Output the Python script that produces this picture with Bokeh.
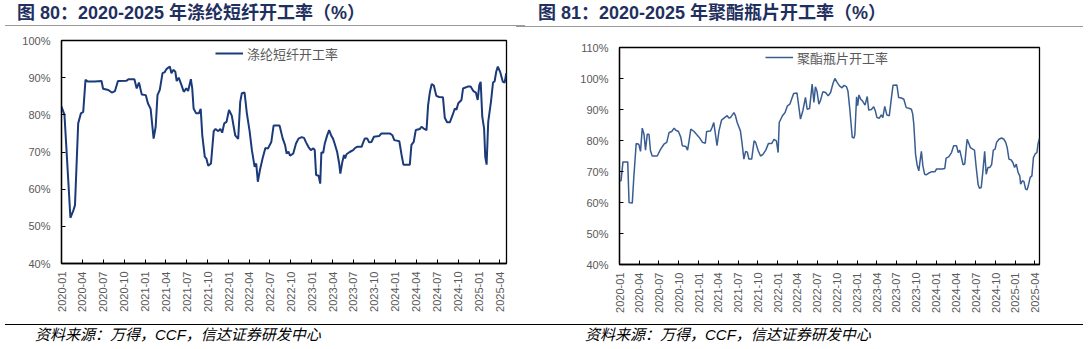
import math
import pandas as pd
from bokeh.plotting import figure
from bokeh.layouts import row, column
from bokeh.models import (Legend, LegendItem, FixedTicker, Div,
                          DatetimeTickFormatter, PrintfTickFormatter, Range1d, ColumnDataSource)
from bokeh.embed import file_html
from bokeh.resources import INLINE

# ---------------- data ----------------
quarter_ticks = ["2020-01", "2020-04", "2020-07", "2020-10", "2021-01", "2021-04", "2021-07", "2021-10",
                 "2022-01", "2022-04", "2022-07", "2022-10", "2023-01", "2023-04", "2023-07", "2023-10",
                 "2024-01", "2024-04", "2024-07", "2024-10", "2025-01", "2025-04"]

psf_dates = [
    "2020-01-01", "2020-01-14", "2020-02-09", "2020-02-22", "2020-02-29", "2020-03-14", "2020-03-26",
    "2020-04-05", "2020-04-15", "2020-04-24", "2020-05-26", "2020-06-24", "2020-07-01", "2020-07-24",
    "2020-08-08", "2020-08-22", "2020-09-04", "2020-10-12", "2020-10-20", "2020-11-15", "2020-11-25",
    "2020-12-05", "2020-12-17", "2021-01-04", "2021-01-13", "2021-01-25", "2021-02-07", "2021-02-16",
    "2021-02-24", "2021-03-06", "2021-03-18", "2021-03-28", "2021-04-04", "2021-04-19", "2021-04-26",
    "2021-05-04", "2021-05-13", "2021-05-19", "2021-05-28", "2021-06-09", "2021-06-19", "2021-06-30",
    "2021-07-08", "2021-07-20", "2021-07-26", "2021-08-01", "2021-08-12", "2021-08-24", "2021-09-01",
    "2021-09-08", "2021-09-19", "2021-09-26", "2021-10-04", "2021-10-16", "2021-10-28", "2021-11-05",
    "2021-11-17", "2021-11-26", "2021-12-04", "2021-12-13", "2021-12-23", "2022-01-03", "2022-01-15",
    "2022-01-30", "2022-02-12", "2022-02-21", "2022-02-28", "2022-03-12", "2022-03-22", "2022-04-03",
    "2022-04-13", "2022-04-25", "2022-05-02", "2022-05-09", "2022-05-18", "2022-05-30", "2022-06-11",
    "2022-06-22", "2022-07-07", "2022-07-17", "2022-08-12", "2022-08-26", "2022-09-05", "2022-09-12",
    "2022-09-20", "2022-09-27", "2022-10-11", "2022-10-23", "2022-11-03", "2022-11-17", "2022-11-27",
    "2022-12-06", "2022-12-16", "2022-12-27", "2023-01-07", "2023-01-13", "2023-01-19", "2023-01-30",
    "2023-02-06", "2023-02-11", "2023-02-19", "2023-02-26", "2023-03-08", "2023-03-17", "2023-03-27",
    "2023-04-03", "2023-04-10", "2023-04-21", "2023-04-30", "2023-05-05", "2023-05-14", "2023-05-21",
    "2023-05-26", "2023-06-01", "2023-06-15", "2023-06-30", "2023-07-07", "2023-07-17", "2023-08-06",
    "2023-08-13", "2023-08-20", "2023-08-31", "2023-09-08", "2023-09-18", "2023-09-29", "2023-10-22",
    "2023-11-01", "2023-12-07", "2023-12-19", "2023-12-27", "2024-01-18", "2024-01-28", "2024-02-05",
    "2024-03-04", "2024-03-11", "2024-03-21", "2024-03-30", "2024-04-17", "2024-04-24", "2024-05-04",
    "2024-05-16", "2024-05-23", "2024-05-31", "2024-06-08", "2024-06-17", "2024-06-28", "2024-07-10",
    "2024-07-27", "2024-08-04", "2024-08-14", "2024-08-26", "2024-09-07", "2024-09-17", "2024-09-24",
    "2024-10-02", "2024-10-16", "2024-10-23", "2024-10-31", "2024-11-12", "2024-11-25", "2024-12-07",
    "2024-12-18", "2024-12-26", "2025-01-02", "2025-01-08", "2025-01-15", "2025-01-23", "2025-01-28",
    "2025-02-03", "2025-02-10", "2025-02-22", "2025-03-03", "2025-03-10", "2025-03-17", "2025-03-24",
    "2025-04-04", "2025-04-15", "2025-04-23", "2025-04-30"]
psf_values = [
    82.2, 80.0, 52.3, 54.3, 55.7, 77.7, 80.4,
    80.8, 89.4, 89.0, 89.0, 89.1, 87.0, 86.7,
    86.0, 86.4, 89.1, 89.2, 89.6, 89.6, 87.1,
    88.7, 85.5, 85.3, 83.1, 81.6, 73.6, 76.8,
    85.3, 86.7, 91.2, 91.5, 92.3, 93.0, 91.2,
    92.1, 91.6, 89.1, 90.0, 88.0, 86.2, 87.1,
    86.4, 89.6, 87.1, 81.7, 80.4, 80.4, 81.6,
    74.5, 68.7, 68.2, 66.3, 66.9, 75.6, 76.2,
    75.6, 76.2, 75.2, 77.7, 78.1, 81.3, 79.8,
    74.5, 73.5, 83.5, 85.8, 86.0, 80.4, 75.6,
    70.5, 66.0, 66.9, 62.0, 65.1, 68.3, 71.1,
    70.9, 72.7, 77.1, 77.1, 73.6, 71.9, 69.6,
    70.1, 69.0, 69.6, 72.3, 73.6, 74.0, 73.8,
    72.6, 71.4, 70.5, 71.0, 70.5, 63.8, 63.6,
    61.5, 69.9, 69.8, 72.3, 74.4, 75.9, 74.3,
    73.6, 72.3, 70.0, 66.9, 64.2, 67.4, 69.2,
    68.3, 69.4, 70.0, 70.5, 71.0, 71.4, 71.4,
    72.6, 73.6, 73.6, 72.6, 72.7, 74.1, 74.3,
    75.0, 75.0, 74.5, 73.2, 72.9, 69.2, 66.6,
    66.6, 71.9, 72.7, 75.9, 76.2, 76.8, 76.3,
    75.9, 82.6, 86.2, 88.3, 87.9, 85.1, 84.8,
    84.7, 79.2, 78.0, 78.0, 79.9, 81.7, 81.4,
    83.1, 84.0, 87.1, 87.3, 87.6, 87.6, 86.4,
    86.0, 84.0, 88.0, 88.9, 79.5, 76.3, 68.7,
    66.6, 78.1, 83.5, 88.7, 89.0, 91.6, 93.0,
    91.4, 88.9, 88.7, 91.2]

pet_dates = [
    "2020-01-01", "2020-01-08", "2020-01-17", "2020-02-08", "2020-02-14", "2020-02-29", "2020-03-07",
    "2020-03-18", "2020-03-30", "2020-04-07", "2020-04-15", "2020-04-23", "2020-04-30", "2020-05-08",
    "2020-05-16", "2020-05-23", "2020-05-31", "2020-06-23", "2020-07-09", "2020-07-24", "2020-08-06",
    "2020-08-17", "2020-08-29", "2020-09-09", "2020-09-17", "2020-09-29", "2020-10-10", "2020-10-17",
    "2020-11-02", "2020-11-10", "2020-11-17", "2020-11-25", "2020-12-10", "2020-12-21", "2021-01-03",
    "2021-01-18", "2021-01-31", "2021-02-06", "2021-02-24", "2021-03-03", "2021-03-11", "2021-03-19",
    "2021-03-26", "2021-04-04", "2021-04-16", "2021-04-27", "2021-05-12", "2021-05-20", "2021-05-27",
    "2021-06-04", "2021-06-12", "2021-06-19", "2021-06-27", "2021-07-12", "2021-07-20", "2021-07-28",
    "2021-08-05", "2021-08-13", "2021-08-20", "2021-09-02", "2021-09-13", "2021-09-20", "2021-10-02",
    "2021-10-13", "2021-10-24", "2021-11-06", "2021-11-18", "2021-12-03", "2021-12-14", "2021-12-25",
    "2022-01-02", "2022-01-07", "2022-01-22", "2022-02-03", "2022-02-14", "2022-02-25", "2022-03-07",
    "2022-03-15", "2022-03-30", "2022-04-08", "2022-04-15", "2022-04-26", "2022-05-08", "2022-05-16",
    "2022-05-27", "2022-06-08", "2022-06-16", "2022-06-23", "2022-06-30", "2022-07-09", "2022-07-16",
    "2022-07-27", "2022-08-09", "2022-08-21", "2022-09-01", "2022-09-12", "2022-09-21", "2022-10-02",
    "2022-10-12", "2022-10-24", "2022-11-02", "2022-11-13", "2022-11-20", "2022-11-28", "2022-12-04",
    "2022-12-10", "2022-12-18", "2022-12-22", "2022-12-30", "2023-01-04", "2023-01-10", "2023-01-18",
    "2023-01-26", "2023-02-07", "2023-02-17", "2023-02-24", "2023-03-08", "2023-03-19", "2023-03-26",
    "2023-04-03", "2023-04-14", "2023-04-23", "2023-04-30", "2023-05-09", "2023-05-19", "2023-05-30",
    "2023-06-09", "2023-06-16", "2023-07-04", "2023-07-12", "2023-07-25", "2023-08-05", "2023-08-16",
    "2023-08-28", "2023-09-09", "2023-09-15", "2023-09-20", "2023-09-28", "2023-10-05", "2023-10-13",
    "2023-10-21", "2023-10-25", "2023-11-01", "2023-11-09", "2023-11-16", "2023-11-28", "2023-12-10",
    "2023-12-26", "2024-01-03", "2024-01-29", "2024-02-10", "2024-02-16", "2024-02-28", "2024-03-12",
    "2024-03-22", "2024-04-04", "2024-04-12", "2024-04-19", "2024-04-27", "2024-05-04", "2024-05-12",
    "2024-05-23", "2024-05-31", "2024-06-07", "2024-06-18", "2024-06-26", "2024-07-04", "2024-07-13",
    "2024-07-19", "2024-07-27", "2024-08-04", "2024-08-12", "2024-08-19", "2024-08-27", "2024-09-05",
    "2024-09-13", "2024-09-21", "2024-09-29", "2024-10-06", "2024-10-17", "2024-10-29", "2024-11-09",
    "2024-11-17", "2024-11-24", "2024-12-02", "2024-12-13", "2024-12-20", "2024-12-28", "2025-01-05",
    "2025-01-13", "2025-01-21", "2025-01-25", "2025-02-02", "2025-02-09", "2025-02-17", "2025-02-24",
    "2025-03-03", "2025-03-10", "2025-03-18", "2025-03-25", "2025-04-03", "2025-04-10", "2025-04-15",
    "2025-04-21"]
pet_values = [
    67.0, 67.0, 73.1, 73.1, 60.0, 59.8, 68.1,
    79.0, 78.8, 76.5, 84.0, 82.0, 76.9, 82.0,
    82.0, 76.7, 75.0, 75.0, 77.2, 78.8, 79.4,
    82.6, 82.9, 84.0, 83.3, 82.9, 81.0, 78.3,
    78.1, 76.9, 79.9, 83.7, 82.9, 82.0, 81.0,
    79.4, 79.1, 82.9, 83.1, 84.2, 85.8, 81.8,
    78.3, 83.1, 86.6, 87.2, 88.0, 87.2, 87.4,
    88.2, 89.0, 88.0, 85.8, 83.1, 78.8, 74.0,
    76.5, 76.2, 74.0, 74.0, 79.9, 79.4, 76.7,
    75.0, 75.5, 76.9, 79.0, 79.0, 80.4, 79.9,
    76.1, 85.8, 88.0, 89.0, 91.2, 91.7, 93.7,
    95.2, 95.3, 90.6, 86.9, 89.6, 93.9, 90.1,
    90.3, 98.2, 92.3, 97.3, 96.0, 91.7, 92.8,
    95.7, 95.5, 94.4, 95.5, 98.4, 100.0, 98.7,
    97.6, 97.0, 97.8, 97.4, 96.0, 90.6, 85.8,
    81.0, 80.8, 82.0, 94.1, 91.2, 94.7, 93.3,
    92.8, 91.4, 94.2, 89.8, 90.0, 90.9, 89.7,
    87.4, 87.2, 88.3, 87.4, 91.0, 88.2, 88.0,
    93.9, 97.8, 97.9, 93.9, 93.7, 93.3, 90.6,
    90.4, 90.1, 88.5, 85.3, 75.6, 72.2, 70.2,
    74.5, 76.5, 71.8, 69.1, 68.9, 69.5, 69.9,
    69.9, 70.8, 70.8, 71.0, 74.3, 74.7, 76.1,
    78.3, 78.3, 76.1, 76.9, 74.5, 72.2, 72.4,
    80.4, 79.0, 77.7, 77.2, 76.9, 71.3, 65.7,
    64.6, 64.8, 70.2, 76.5, 69.1, 71.3, 71.3,
    72.2, 76.9, 77.2, 79.4, 80.4, 80.8, 80.4,
    79.4, 77.7, 74.0, 73.7, 72.9, 71.3, 72.4,
    69.7, 68.6, 65.9, 67.0, 66.8, 64.3, 64.1,
    65.9, 68.1, 68.6, 74.5, 75.8, 76.1, 78.8,
    80.6]

left_title = "图 80：2020-2025 年涤纶短纤开工率（%）"
right_title = "图 81：2020-2025 年聚酯瓶片开工率（%）"
source_text = "资料来源：万得，CCF，信达证券研发中心"

# ---------------- styling helpers ----------------
TITLE_COLOR = "#1f3060"
TICK_COLOR = "#595959"
tick_ms = [pd.Timestamp(t + "-01").value // 10**6 for t in quarter_ticks]
HEAD_H = 30
FOOT_H = 29
FIG_H = 349 - HEAD_H - FOOT_H


def make_chart(width, bl, br, bt, bb, x_end, y_lo, y_hi, dates, values, color, lw,
               legend_label, legend_loc):
    p = figure(width=width, height=FIG_H, x_axis_type="datetime", output_backend="svg",
               toolbar_location=None, title=None,
               x_range=Range1d(pd.Timestamp("2020-01-01"), pd.Timestamp(x_end)),
               y_range=Range1d(y_lo, y_hi),
               min_border_left=bl, min_border_right=br, min_border_top=bt, min_border_bottom=bb)
    p.background_fill_color = "white"
    p.border_fill_color = "white"
    p.outline_line_color = "black"
    p.outline_line_width = 1.3
    p.xgrid.visible = False
    p.ygrid.visible = False

    src = ColumnDataSource(dict(x=pd.to_datetime(dates), y=values))
    r = p.line("x", "y", source=src, line_color=color, line_width=lw)

    xa = p.xaxis[0]
    xa.ticker = FixedTicker(ticks=tick_ms)
    xa.formatter = DatetimeTickFormatter(years="%Y-%m", months="%Y-%m", days="%Y-%m",
                                         hours="%Y-%m", hourmin="%Y-%m", minutes="%Y-%m")
    xa.major_label_orientation = math.pi / 2
    xa.major_label_text_font = "Liberation Sans"
    xa.major_label_text_font_size = "11px"
    xa.major_label_text_color = TICK_COLOR
    xa.major_label_standoff = 8
    xa.major_tick_in = 4
    xa.major_tick_out = 0
    xa.minor_tick_in = 0
    xa.minor_tick_out = 0
    xa.axis_line_color = "black"
    xa.axis_line_width = 1.3
    xa.major_tick_line_color = "black"

    ya = p.yaxis[0]
    ya.ticker = FixedTicker(ticks=list(range(int(y_lo), int(y_hi) + 1, 10)))
    ya.formatter = PrintfTickFormatter(format="%d%%")
    ya.major_label_text_font = "Liberation Sans"
    ya.major_label_text_font_size = "11px"
    ya.major_label_text_color = TICK_COLOR
    ya.major_label_standoff = 11
    ya.major_tick_in = 4
    ya.major_tick_out = 0
    ya.minor_tick_in = 0
    ya.minor_tick_out = 0
    ya.axis_line_color = "black"
    ya.axis_line_width = 1.3
    ya.major_tick_line_color = "black"

    leg = Legend(items=[LegendItem(label=legend_label, renderers=[r])], location=legend_loc,
                 border_line_alpha=0, background_fill_alpha=0, padding=0, margin=0,
                 glyph_width=28, label_standoff=4, label_text_font="Noto Sans CJK SC",
                 label_text_font_size="13px", label_text_color=TICK_COLOR)
    p.add_layout(leg)
    return p


def header(width, title, tx, line_x0, line_x1, line_y, extra=""):
    html = (
        f'<div style="position:relative;width:{width}px;height:{HEAD_H}px;background:white;">'
        f'<div style="position:absolute;left:{tx}px;top:2px;font-family:\'Liberation Sans\',\'Noto Sans CJK SC\';'
        f'font-weight:bold;font-size:18px;line-height:22px;color:{TITLE_COLOR};white-space:nowrap;">{title}</div>'
        f'<div style="position:absolute;left:{line_x0}px;width:{line_x1 - line_x0}px;top:{line_y}px;'
        f'height:1px;background:#9a9a9a;"></div>{extra}</div>'
    )
    return Div(text=html, width=width, height=HEAD_H, margin=(0, 0, 0, 0),
               styles={"padding": "0", "margin": "0"})


def footer(width, tx, line_x0, line_x1):
    html = (
        f'<div style="position:relative;width:{width}px;height:{FOOT_H}px;background:white;">'
        f'<div style="position:absolute;left:{line_x0}px;width:{line_x1 - line_x0}px;top:4px;'
        f'height:1px;background:#000000;"></div>'
        f'<div style="position:absolute;left:{tx}px;top:5px;font-family:\'Liberation Sans\',\'Noto Sans CJK SC\';'
        f'font-style:italic;font-size:15px;line-height:19px;color:#000000;white-space:nowrap;">{source_text}</div>'
        f'</div>'
    )
    return Div(text=html, width=width, height=FOOT_H, margin=(0, 0, 0, 0),
               styles={"padding": "0", "margin": "0"})


# left panel: frame x 61..506, y 40..263 ; right panel: frame x 618.7..1039.3, y 47.3..264.3
left = make_chart(530, 61, 24, 40 - HEAD_H, HEAD_H + FIG_H - 263, "2025-05-01", 40, 100,
                  psf_dates, psf_values, "#1b3a7a", 2, "涤纶短纤开工率", (154, 200))
right = make_chart(558, 89, 49, 47 - HEAD_H, HEAD_H + FIG_H - 264, "2025-04-22", 40, 110,
                   pet_dates, pet_values, "#3a5d91", 1.5, "聚酯瓶片开工率", (146, 197))

extra_left = ('<div style="position:absolute;left:516px;width:14px;top:26px;height:1px;'
              'background:#9a9a9a;"></div>')
head_l = header(530, left_title, 17, 5, 525, 25, extra_left)
head_r = header(558, right_title, 8, 0, 553, 26)
foot_l = footer(530, 35, 5, 530)
foot_r = footer(558, 55, 0, 553)

col_l = column(head_l, left, foot_l, spacing=0)
col_r = column(head_r, right, foot_r, spacing=0)
layout = row(col_l, col_r, spacing=0)
open("out.html", "w").write(file_html(layout, INLINE))
